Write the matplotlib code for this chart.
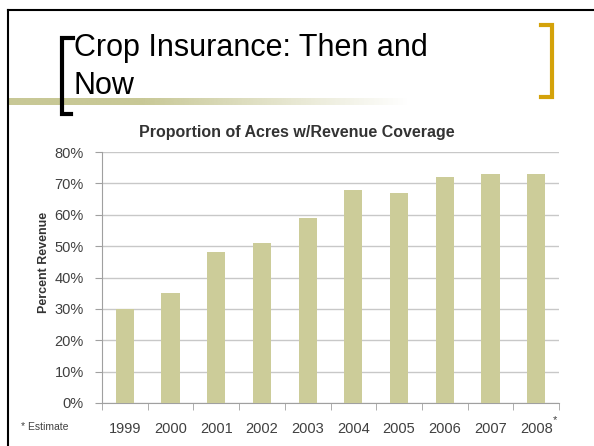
import numpy as np
import matplotlib.pyplot as plt
from matplotlib.lines import Line2D
from matplotlib.transforms import blended_transform_factory

# Chart data
years = ['1999', '2000', '2001', '2002', '2003', '2004', '2005', '2006', '2007', '2008*']
revenue_share = [30, 35, 48, 51, 59, 68, 67, 72, 73, 73]
y_ticks = [0, 10, 20, 30, 40, 50, 60, 70, 80]

plt.rcParams['font.family'] = ['Liberation Sans', 'DejaVu Sans']

W, H = 594, 446
fig = plt.figure(figsize=(W / 100, H / 100), dpi=100)
fig.patch.set_facecolor('white')


def fx(x):
    return x / W


def fy(y):
    # pixel rows counted from the top
    return 1 - y / H


# slide frame
fig.add_artist(Line2D([fx(8), fx(594)], [fy(10), fy(10)], color='black', lw=1.5))
fig.add_artist(Line2D([fx(8), fx(8)], [fy(10), fy(446)], color='black', lw=1.5))

# olive rule under the title, fading to the right
grad = np.linspace(0, 1, 256)
rule = np.ones((1, 256, 4))
rule[0, :, :3] = np.array([200, 200, 150]) / 255
rule[0, :, 3] = np.clip(1.5 - 1.5 * grad, 0, 1)
ax_rule = fig.add_axes([fx(8), fy(105), 400 / W, 7 / H])
ax_rule.imshow(rule, aspect='auto', extent=[0, 1, 0, 1])
ax_rule.axis('off')

# black bracket left
fig.add_artist(Line2D([fx(73), fx(62), fx(62), fx(71)],
                      [fy(38), fy(38), fy(114), fy(114)],
                      color='black', lw=3, solid_joinstyle='miter'))
# gold bracket right
fig.add_artist(Line2D([fx(541), fx(551.5), fx(551.5), fx(541)],
                      [fy(25), fy(25), fy(97), fy(97)],
                      color='#d4a20a', lw=3, solid_joinstyle='miter'))

# slide title
fig.text(fx(74), fy(56), 'Crop Insurance: Then and', fontsize=22, color='black')
fig.text(fx(74), fy(94), 'Now', fontsize=22, color='black')

# bar chart
ax = fig.add_axes([fx(102), fy(403), 457 / W, 251 / H])
x = np.arange(len(years))
ax.bar(x, revenue_share, width=0.4, color='#cccc99', zorder=3)
ax.set_xlim(-0.5, len(years) - 0.5)
ax.set_ylim(0, 80)
ax.set_yticks(y_ticks)
ax.set_yticklabels([f'{v}%' for v in y_ticks], fontsize=10.5, color='#404040')
ax.set_xticks(x)
ax.set_xticklabels([y.rstrip('*') for y in years], fontsize=10.5, color='#404040')
ax.set_xticks(np.arange(-0.5, len(years)), minor=True)
ax.tick_params(axis='x', which='major', length=0, pad=14)
ax.tick_params(axis='x', which='minor', length=5, color='#a0a0a0')
ax.tick_params(axis='y', length=5, color='#a0a0a0', pad=8)
ax.yaxis.grid(True, color='#c8c8c8', lw=1, zorder=0)
for side in ['top', 'right']:
    ax.spines[side].set_visible(False)
for side in ['left', 'bottom']:
    ax.spines[side].set_color('#a0a0a0')

# asterisk on estimated years
trans = blended_transform_factory(ax.transData, ax.transAxes)
for i, label in enumerate(years):
    if label.endswith('*'):
        ax.text(i + 0.36, -0.05, '*', transform=trans, fontsize=8,
                color='#404040', ha='left', va='top')

fig.text(fx(297), fy(137), 'Proportion of Acres w/Revenue Coverage', fontsize=11.5,
         fontweight='bold', color='#333333', ha='center')
fig.text(fx(44), fy(262), 'Percent Revenue', fontsize=9, fontweight='bold',
         color='#333333', rotation=90, ha='center', va='center')
fig.text(fx(21), fy(430), '* Estimate', fontsize=7.5, color='#404040')

fig.savefig('out.png', dpi=100)
